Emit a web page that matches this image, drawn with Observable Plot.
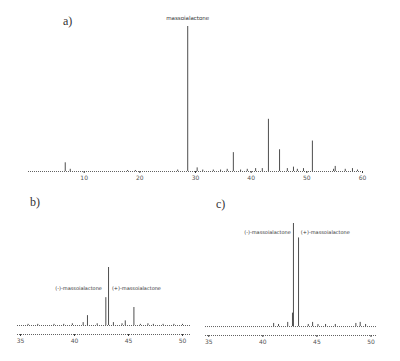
<!DOCTYPE html>
<html>
<head>
<meta charset="utf-8">
<script src="https://cdn.jsdelivr.net/npm/d3@7"></script>
<script src="https://cdn.jsdelivr.net/npm/@observablehq/plot@0.6"></script>
<style>
  html, body { margin: 0; padding: 0; background: #fff; }
  #wrap { position: relative; width: 400px; height: 361px; font-family: "DejaVu Sans", sans-serif; }
  #wrap > div.panel { position: absolute; }
  .tag { position: absolute; font-family: "Liberation Serif", serif; font-size: 12px; color: #333; }
</style>
</head>
<body>
<div id="wrap">
  <div class="panel" id="pa" style="left:0;top:0"></div>
  <div class="panel" id="pb" style="left:0;top:190px"></div>
  <div class="panel" id="pc" style="left:195px;top:190px"></div>
  <div class="tag" style="left:63px;top:14px">a)</div>
  <div class="tag" style="left:30px;top:195px">b)</div>
  <div class="tag" style="left:216px;top:197px">c)</div>
</div>
<script>
// Panel a: full chromatogram (retention time, relative intensity)
const aTimes   = [6.6, 7.5, 17.8, 19.2, 26.8, 28.6, 30.3, 31.3, 33.2, 34.5, 35.7, 36.8, 38.1, 39.3, 40.8, 42.0, 43.1, 45.1, 46.5, 47.6, 48.3, 49.4, 51.0, 54.8, 55.1, 56.9, 58.2, 59.1];
const aHeights = [6,   1.5, 0.7,  0.7,  1,    100,  2.5,  1,    1,    1,    1.5,  13,   1,    1.5,  2,    2,    36,   15,   2,    3,    1.5,  2,    21,   1.5,  3.5,  1.5,  2,    1];
const aTicks = [10, 20, 30, 40, 50, 60];
const aLabel = [{t: 28.6, h: 100, name: "massoialactone"}];

// Panel b: chiral separation, sample
const bTimes   = [35.7, 36.6, 38.1, 39.0, 39.8, 40.8, 41.2, 42.1, 42.9, 43.15, 43.6, 44.4, 44.7, 45.5, 46.1, 46.8, 47.3, 48.2, 49.2, 50.0];
const bHeights = [2,    2,    2,    2,    3,    5,    17,   3,    48,   100,   5,    3,    8,    31,   2,    3,    2,    2,    2,    2];
const bTicks = [35, 40, 45, 50];
const bLabels = [
  {t: 43.0, h: 64, name: "(-)-massoialactone", side: "left"},
  {t: 43.0, h: 64, name: "(+)-massoialactone", side: "right"}
];

// Panel c: chiral separation, reference standard
const cTimes   = [41.0, 41.45, 42.3, 42.74, 42.83, 43.3, 44.2, 44.6, 45.1, 45.8, 46.7, 48.6, 49.0, 49.5];
const cHeights = [3,    2,     4,    13,    100,   86,   2,    4,    2,    2,    2,    3,    4,    2];
const cTicks = [35, 40, 45, 50];
const cLabels = [
  {t: 43.05, h: 91, name: "(-)-massoialactone", side: "left"},
  {t: 43.05, h: 91, name: "(+)-massoialactone", side: "right"}
];

const ink = "#3a3a3a";
const toRows = (ts, hs) => ts.map((t, i) => ({t, h: hs[i]}));

function panel({rows, ticks, labels, width, height, margins, xDomain, yDomain, axisY, fontSize}) {
  const marks = [
    Plot.ruleY([0], {stroke: ink, strokeWidth: 0.8, strokeDasharray: "1,1"}),
    Plot.ruleX(rows, {x: "t", y1: 0, y2: "h", stroke: ink, strokeWidth: 0.9}),
    Plot.axisX({ticks, label: null, tickSize: 2, tickPadding: 2, fontSize: 6, stroke: ink, fill: "#555", tickFormat: d => String(d)})
  ];
  if (axisY !== 0) marks.push(Plot.ruleY([axisY], {stroke: ink, strokeWidth: 0.8, strokeDasharray: "1,1"}));
  const left = labels.filter(d => d.side === "left");
  const right = labels.filter(d => d.side === "right");
  const mid = labels.filter(d => !d.side);
  marks.push(
    Plot.text(left, {x: "t", y: "h", text: "name", textAnchor: "end", dx: -5, fontSize, fill: "#333"}),
    Plot.text(right, {x: "t", y: "h", text: "name", textAnchor: "start", dx: 5, fontSize, fill: "#333"}),
    Plot.text(mid, {x: "t", y: "h", text: "name", dy: -8, fontSize, fill: "#333"})
  );
  return Plot.plot({
    width, height,
    marginTop: margins[0], marginRight: margins[1], marginBottom: margins[2], marginLeft: margins[3],
    x: {domain: xDomain, axis: null, label: null},
    y: {domain: yDomain, axis: null, label: null},
    style: {background: "transparent", fontFamily: "DejaVu Sans, sans-serif"},
    marks
  });
}

document.getElementById("pa").append(panel({
  rows: toRows(aTimes, aHeights), ticks: aTicks, labels: aLabel,
  width: 400, height: 190, margins: [26, 38, 19, 28],
  xDomain: [0, 60], yDomain: [0, 100], axisY: 0, fontSize: 5.5
}));
document.getElementById("pb").append(panel({
  rows: toRows(bTimes, bHeights), ticks: bTicks, labels: bLabels,
  width: 200, height: 171, margins: [77, 10, 27, 17],
  xDomain: [34.72, 50.74], yDomain: [-15.5, 100], axisY: -15.5, fontSize: 5
}));
document.getElementById("pc").append(panel({
  rows: toRows(cTimes, cHeights), ticks: cTicks, labels: cLabels,
  width: 205, height: 171, margins: [33, 23, 26, 10],
  xDomain: [34.7, 50.6], yDomain: [-8.7, 100], axisY: -8.7, fontSize: 5
}));
</script>
</body>
</html>
